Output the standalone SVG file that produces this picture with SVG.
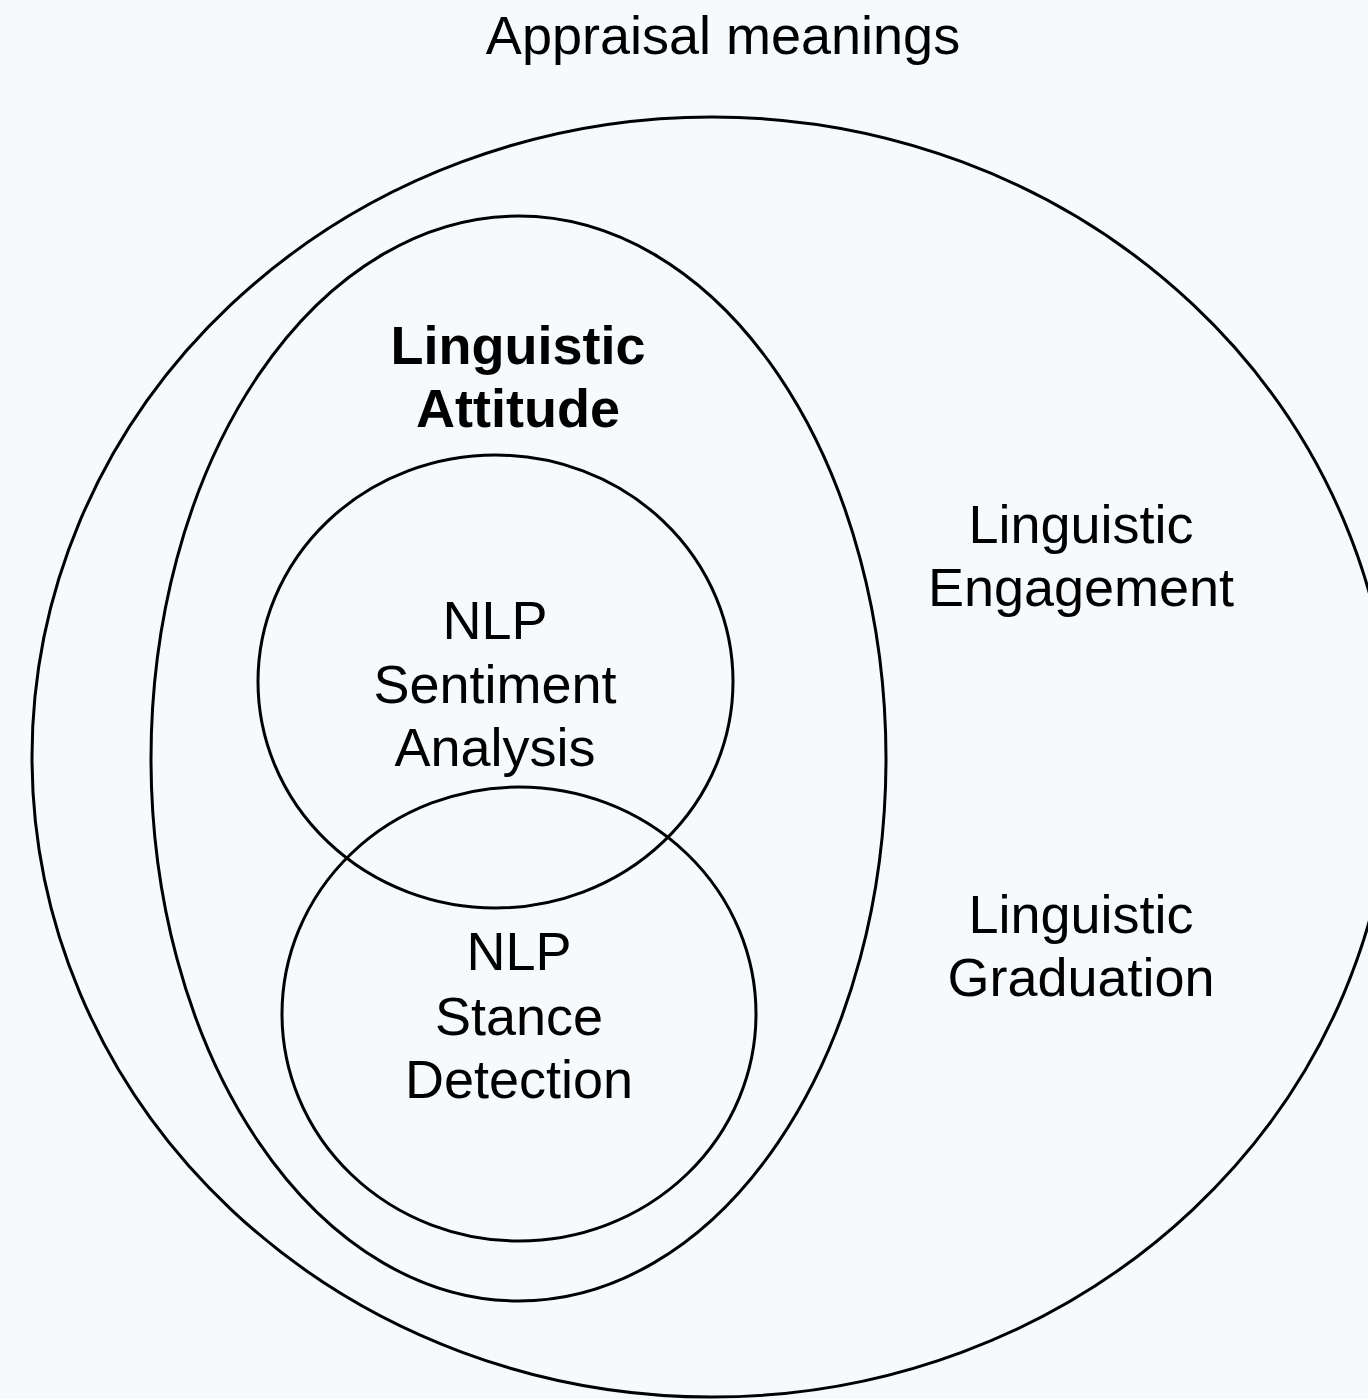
<svg xmlns="http://www.w3.org/2000/svg" width="1368" height="1399" viewBox="0 0 1368 1399">
<style>
.shape{fill:none;stroke:#000;stroke-width:3}
.t{font-family:"Liberation Sans",Arial,sans-serif;font-size:54px;fill:#000;text-anchor:middle}
.b{font-weight:bold}
</style>
<rect width="1368" height="1399" fill="#f6fafd"/>
<g id="title"><text class="t" x="723" y="54">Appraisal meanings</text></g>
<g id="appraisal">
<ellipse class="shape" cx="712" cy="757" rx="680" ry="640"/>
</g>
<g id="attitude">
<ellipse class="shape" cx="518.5" cy="758.5" rx="367.5" ry="542.5"/>
<text class="t b" x="518" y="364">Linguistic</text>
<text class="t b" x="518" y="427">Attitude</text>
</g>
<g id="sentiment">
<ellipse class="shape" cx="495.5" cy="681.5" rx="237.5" ry="226.5"/>
<text class="t" x="495" y="639">NLP</text>
<text class="t" x="495" y="703">Sentiment</text>
<text class="t" x="495" y="766">Analysis</text>
</g>
<g id="stance">
<ellipse class="shape" cx="519" cy="1014" rx="237" ry="227"/>
<text class="t" x="519" y="970">NLP</text>
<text class="t" x="519" y="1035">Stance</text>
<text class="t" x="519" y="1098">Detection</text>
</g>
<g id="engagement">
<text class="t" x="1081" y="543">Linguistic</text>
<text class="t" x="1081" y="606">Engagement</text>
</g>
<g id="graduation">
<text class="t" x="1081" y="933">Linguistic</text>
<text class="t" x="1081" y="996">Graduation</text>
</g>
<g id="connectors"></g>
</svg>
